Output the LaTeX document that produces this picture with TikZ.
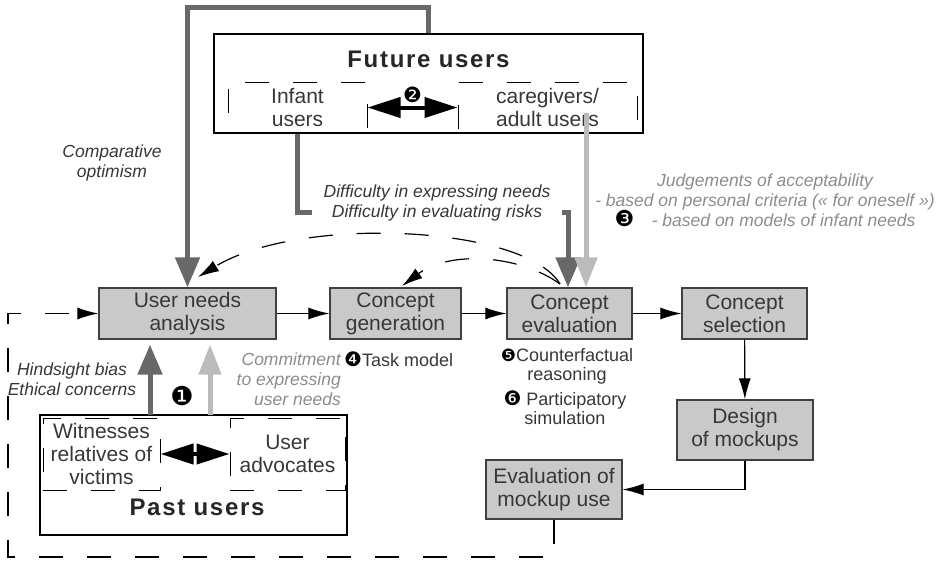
\documentclass[tikz,border=0pt]{standalone}
\usepackage{fontspec}
\setmainfont{Liberation Sans}
\newfontfamily\symfont{DejaVu Sans}
\newfontfamily\titlefont[LetterSpace=7]{Liberation Sans}
\usepackage{tikz}
\usetikzlibrary{positioning,arrows.meta}

\definecolor{stagefill}{RGB}{201,201,201}
\definecolor{stageedge}{RGB}{64,64,64}
\definecolor{darkflow}{RGB}{104,104,104}
\definecolor{lightflow}{RGB}{187,187,187}
\definecolor{lightnote}{RGB}{140,140,140}
\definecolor{darknote}{RGB}{55,55,55}

\newcommand{\cnum}[2][20]{{\symfont\fontsize{#1}{#1}\selectfont\color{black}#2}}

\tikzset{
  stage/.style={draw=stageedge, line width=1.3pt, fill=stagefill, text=darknote, align=center,
    inner sep=0pt, minimum height=51pt, font=\fontsize{21}{23}\selectfont},
  usersbox/.style={draw=black, line width=1.3pt, inner sep=0pt},
  usergroup/.style={draw=black, line width=1pt, dash pattern=on 24pt off 24pt, align=center,
    inner sep=0pt, text=darknote, font=\fontsize{21}{23}\selectfont},
  usertitle/.style={font=\titlefont\bfseries\fontsize{24}{26}\selectfont, text=black!85},
  flow/.style={line width=1.2pt, -{Latex[length=21pt,width=12pt]}},
  loopflow/.style={flow, dash pattern=on 24pt off 24pt},
  heavydark/.style={draw=darkflow, line width=5pt, -{Triangle[length=30pt,width=24pt]}},
  heavylight/.style={draw=lightflow, line width=5pt, -{Triangle[length=30pt,width=22pt]}},
  pairflow/.style={line width=4pt, {Triangle[length=33pt,width=20pt]}-{Triangle[length=33pt,width=20pt]}},
  note/.style={font=\itshape\fontsize{17.5}{20}\selectfont, text=darknote, align=center, inner sep=0pt},
  greynote/.style={note, text=lightnote},
  method/.style={font=\fontsize{18}{19}\selectfont, text=darknote, align=center, inner sep=0pt}
}

\begin{document}
\begin{tikzpicture}[x=1pt,y=-1pt]
\useasboundingbox (0,0) rectangle (942,560);

% design process
\node[stage, minimum width=177pt] (needs) at (187.5,313.5) {User needs\\analysis};
\node[stage, minimum width=131pt] (gener) at (395.5,313.5) {Concept\\generation};
\node[stage, minimum width=125pt] (evalu) at (569.5,313.5) {Concept\\evaluation};
\node[stage, minimum width=125pt] (select) at (744.5,313.5) {Concept\\selection};
\node[stage, minimum width=136pt, minimum height=60pt] (mockup) at (745,430) {Design\\of mockups};
\node[stage, minimum width=136pt, minimum height=59pt] (mockuse) at (554,489.5) {Evaluation of\\mockup use};

% future users
\node[usersbox, minimum width=429pt, minimum height=99pt] (future) at (428.5,83.5) {};
\node[usertitle] (futuretitle) at (428.5,59) {Future users};
\node[usergroup, minimum width=139pt, minimum height=51pt] (infant) at (297.5,107.5) {Infant\\users};
\node[usergroup, minimum width=179pt, minimum height=51pt] (carers) at (547.5,107.5) {caregivers/\\adult users};
\draw[pairflow] (infant.east) -- (carers.west) node[midway, above=3pt, inner sep=0pt] {\cnum[21]{❷}};

% past users
\node[usersbox, minimum width=307pt, minimum height=120pt] (past) at (193.5,475) {};
\node[usertitle] (pasttitle) at (197,507) {Past users};
\node[usergroup, minimum width=117pt, minimum height=72pt] (witness) at (101.5,454) {Witnesses\\relatives of\\victims};
\node[usergroup, minimum width=115pt, minimum height=72pt] (advocate) at (287.5,454) {User\\advocates};
\draw[pairflow] (witness.east) -- (advocate.west);

% main flow
\draw[flow] (needs) -- (gener);
\draw[flow] (gener) -- (evalu);
\draw[flow] (evalu) -- (select);
\draw[flow] (select) -- (mockup);
\draw[flow] (mockup.south) |- (mockuse.east);

% iterations
\coordinate (loopbottom) at (8,557);
\draw[loopflow] (mockuse.south) |- (loopbottom) |- (needs.west);
\coordinate (evalstart) at (560,284);
\coordinate (needsin) at (198,277);
\coordinate (generin) at (402,286);
\draw[loopflow] (evalstart) .. controls (525,225) and (300,215) .. (needsin);
\draw[loopflow] (evalstart) .. controls (520,255) and (450,250) .. (generin);

% user influences
\coordinate (toploop) at (428.5,7);
\draw[heavydark] (future.north) -- (toploop) -| (needs.north);
\coordinate (difftrack) at (568,212);
\draw[heavydark] (infant.south) |- (difftrack) -- (difftrack |- evalu.north);
\node[note, fill=white, inner xsep=12pt, inner ysep=2pt] (difficulty) at (437,203)
  {Difficulty in expressing needs\\Difficulty in evaluating risks};
\coordinate (adultfoot) at (586,113);
\draw[heavylight] (adultfoot) -- (adultfoot |- evalu.north);
\coordinate (hindfoot) at (150,415);
\draw[heavydark, shorten >=5pt] (hindfoot) -- (hindfoot |- needs.south);
\coordinate (commitfoot) at (210,415);
\draw[heavylight, shorten >=5pt] (commitfoot) -- (commitfoot |- needs.south);

% labels
\node[note] (optimism) at (112,163) {Comparative\\optimism};
\node[greynote] (judgement) at (765,200) {Judgements of acceptability\\- based on personal criteria (« for oneself »)\\\cnum[22]{❸}\quad - based on models of infant needs};
\node[note] (hindsight) at (72,379) {Hindsight bias\\Ethical concerns};
\node[inner sep=0pt] (one) at (182,396) {\cnum[26]{❶}};
\node[greynote, align=right, anchor=east] (commit) at (341,379) {Commitment\\to expressing\\user needs};
\node[method, anchor=west] (taskmodel) at (344,359) {\cnum{❹}Task model};
\node[method] (counterfact) at (567,366) {\cnum[17]{❺}Counterfactual\\reasoning};
\node[method] (simulation) at (565,408) {\cnum{❻} Participatory\\simulation};
\end{tikzpicture}
\end{document}
